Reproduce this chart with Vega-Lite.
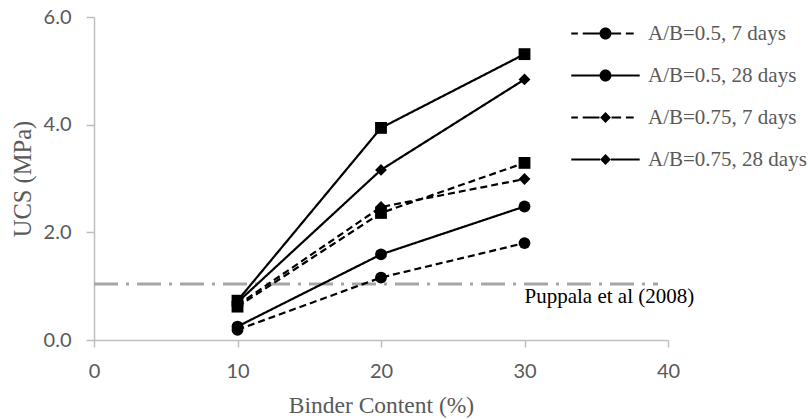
{
  "$schema": "https://vega.github.io/schema/vega-lite/v6.json",
  "width": 574,
  "height": 323,
  "autosize": "none",
  "padding": {"left": 94, "top": 17, "right": 140, "bottom": 79},
  "background": "white",
  "config": {"view": {"stroke": null}, "axis": {"grid": false}},
  "datasets": {
    "ucs": [
      {"series": "A/B=0.5, 7 days", "binder": 10, "ucs": 0.19},
      {"series": "A/B=0.5, 7 days", "binder": 20, "ucs": 1.16},
      {"series": "A/B=0.5, 7 days", "binder": 30, "ucs": 1.80},
      {"series": "A/B=0.5, 28 days", "binder": 10, "ucs": 0.25},
      {"series": "A/B=0.5, 28 days", "binder": 20, "ucs": 1.59},
      {"series": "A/B=0.5, 28 days", "binder": 30, "ucs": 2.48},
      {"series": "A/B=0.75, 7 days", "binder": 10, "ucs": 0.65},
      {"series": "A/B=0.75, 7 days", "binder": 20, "ucs": 2.47},
      {"series": "A/B=0.75, 7 days", "binder": 30, "ucs": 2.99},
      {"series": "A/B=0.75, 28 days", "binder": 10, "ucs": 0.70},
      {"series": "A/B=0.75, 28 days", "binder": 20, "ucs": 3.16},
      {"series": "A/B=0.75, 28 days", "binder": 30, "ucs": 4.84},
      {"series": "A/B=1.0, 7 days", "binder": 10, "ucs": 0.62},
      {"series": "A/B=1.0, 7 days", "binder": 20, "ucs": 2.36},
      {"series": "A/B=1.0, 7 days", "binder": 30, "ucs": 3.29},
      {"series": "A/B=1.0, 28 days", "binder": 10, "ucs": 0.73},
      {"series": "A/B=1.0, 28 days", "binder": 20, "ucs": 3.94},
      {"series": "A/B=1.0, 28 days", "binder": 30, "ucs": 5.31}
    ],
    "ref": [
      {"x": 0, "x2": 39.3, "y": 1.04, "lx": 30, "label": "Puppala et al (2008)"}
    ]
  },
  "resolve": {"scale": {"shape": "independent"}, "legend": {"shape": "independent"}},
  "layer": [
    {
      "data": {"name": "ref"},
      "mark": {"type": "rule", "color": "#a6a6a6", "strokeWidth": 3, "strokeDash": [24, 8, 3, 8]},
      "encoding": {
        "x": {
          "field": "x", "type": "quantitative", "title": "Binder Content (%)",
          "scale": {"domain": [0, 40], "nice": false, "zero": false},
          "axis": {
            "values": [0, 10, 20, 30, 40], "labelFlush": false, "grid": false,
            "domainColor": "#bfbfbf", "domainWidth": 1.5, "tickColor": "#bfbfbf", "tickWidth": 1.5, "tickSize": 7,
            "labelFont": "Lato", "labelFontSize": 20, "labelColor": "#595959", "labelPadding": 14,
            "titleFont": "Liberation Serif", "titleFontSize": 23.5, "titleFontWeight": "normal", "titleColor": "#595959", "titlePadding": 12
          }
        },
        "x2": {"field": "x2"},
        "y": {
          "field": "y", "type": "quantitative", "title": "UCS (MPa)",
          "scale": {"domain": [0, 6], "nice": false},
          "axis": {
            "values": [0, 2, 4, 6], "format": ".1f", "labelFlush": false, "grid": false,
            "domainColor": "#bfbfbf", "domainWidth": 1.5, "tickColor": "#bfbfbf", "tickWidth": 1.5, "tickSize": 8,
            "labelFont": "Lato", "labelFontSize": 20, "labelColor": "#595959", "labelPadding": 15,
            "titleFont": "Liberation Serif", "titleFontSize": 24.5, "titleFontWeight": "normal", "titleColor": "#595959", "titlePadding": 8
          }
        }
      }
    },
    {
      "data": {"name": "ref"},
      "mark": {"type": "text", "align": "left", "baseline": "alphabetic", "dy": 19, "font": "Liberation Serif", "fontSize": 21, "color": "black"},
      "encoding": {
        "x": {"field": "lx", "type": "quantitative", "title": "Binder Content (%)"},
        "y": {"field": "y", "type": "quantitative", "title": "UCS (MPa)"},
        "text": {"field": "label"}
      }
    },
    {
      "data": {"name": "ucs"},
      "mark": {"type": "line", "color": "black", "strokeWidth": 2.2},
      "encoding": {
        "x": {"field": "binder", "type": "quantitative", "title": "Binder Content (%)"},
        "y": {"field": "ucs", "type": "quantitative", "title": "UCS (MPa)"},
        "strokeDash": {
          "field": "series", "type": "nominal", "legend": null,
          "scale": {
            "domain": ["A/B=1.0, 28 days", "A/B=1.0, 7 days", "A/B=0.75, 28 days", "A/B=0.75, 7 days", "A/B=0.5, 28 days", "A/B=0.5, 7 days"],
            "range": [[1, 0], [7, 4], [1, 0], [7, 4], [1, 0], [7, 4]]
          }
        }
      }
    },
    {
      "data": {"name": "ucs"},
      "mark": {"type": "point", "filled": true, "color": "black", "size": 140, "opacity": 1},
      "encoding": {
        "x": {"field": "binder", "type": "quantitative", "title": "Binder Content (%)"},
        "y": {"field": "ucs", "type": "quantitative", "title": "UCS (MPa)"},
        "shape": {
          "field": "series", "type": "nominal", "legend": null,
          "scale": {
            "domain": ["A/B=0.5, 7 days", "A/B=0.5, 28 days", "A/B=0.75, 7 days", "A/B=0.75, 28 days", "A/B=1.0, 7 days", "A/B=1.0, 28 days"],
            "range": ["circle", "circle", "diamond", "diamond", "square", "square"]
          }
        }
      }
    },
    {
      "data": {"name": "ucs"},
      "mark": {"type": "point", "filled": true, "color": "black", "size": 144, "opacity": 0},
      "encoding": {
        "x": {"field": "binder", "type": "quantitative", "title": "Binder Content (%)"},
        "y": {"field": "ucs", "type": "quantitative", "title": "UCS (MPa)"},
        "shape": {
          "field": "series", "type": "nominal",
          "scale": {
            "domain": ["A/B=0.5, 28 days", "A/B=0.5, 7 days", "A/B=0.75, 28 days", "A/B=0.75, 7 days", "A/B=1.0, 28 days", "A/B=1.0, 7 days"],
            "range": [
              "M-5.7,-0.18L-1,-0.18L-1,0.18L-5.7,0.18ZM1,-0.18L5.7,-0.18L5.7,0.18L1,0.18ZM1,0A1,1,0,1,0,-1,0A1,1,0,1,0,1,0Z",
              "M-5.7,-0.18L-4.6,-0.18L-4.6,0.18L-5.7,0.18ZM-3.8,-0.18L-1,-0.18L-1,0.18L-3.8,0.18ZM1,-0.18L2.6,-0.18L2.6,0.18L1,0.18ZM3.4,-0.18L4.7,-0.18L4.7,0.18L3.4,0.18ZM1,0A1,1,0,1,0,-1,0A1,1,0,1,0,1,0Z",
              "M-5.7,-0.18L-0.9,-0.18L-0.9,0.18L-5.7,0.18ZM0.9,-0.18L5.7,-0.18L5.7,0.18L0.9,0.18ZM0,-0.9L0.9,0L0,0.9L-0.9,0Z",
              "M-5.7,-0.18L-4.6,-0.18L-4.6,0.18L-5.7,0.18ZM-3.8,-0.18L-1,-0.18L-1,0.18L-3.8,0.18ZM1,-0.18L2.6,-0.18L2.6,0.18L1,0.18ZM3.4,-0.18L4.7,-0.18L4.7,0.18L3.4,0.18ZM0,-0.9L0.9,0L0,0.9L-0.9,0Z",
              "M-5.7,-0.18L-1,-0.18L-1,0.18L-5.7,0.18ZM1,-0.18L5.7,-0.18L5.7,0.18L1,0.18ZM-1,-1L1,-1L1,1L-1,1Z",
              "M-5.7,-0.18L-4.6,-0.18L-4.6,0.18L-5.7,0.18ZM-3.8,-0.18L-1,-0.18L-1,0.18L-3.8,0.18ZM1,-0.18L2.6,-0.18L2.6,0.18L1,0.18ZM3.4,-0.18L4.7,-0.18L4.7,0.18L3.4,0.18ZM-1,-1L1,-1L1,1L-1,1Z"
            ]
          },
          "legend": {
            "values": ["A/B=0.5, 7 days", "A/B=0.5, 28 days", "A/B=0.75, 7 days", "A/B=0.75, 28 days"],
            "title": null,
            "orient": "none",
            "legendX": 501,
            "legendY": 6,
            "padding": 0,
            "symbolSize": 144,
            "symbolOpacity": 1,
            "symbolFillColor": "black",
            "symbolStrokeColor": "black",
            "symbolStrokeWidth": 0,
            "labelFont": "Liberation Serif",
            "labelFontSize": 21,
            "labelColor": "#595959",
            "labelOffset": 32,
            "labelLimit": 300,
            "rowPadding": 20
          }
        }
      }
    }
  ]
}
